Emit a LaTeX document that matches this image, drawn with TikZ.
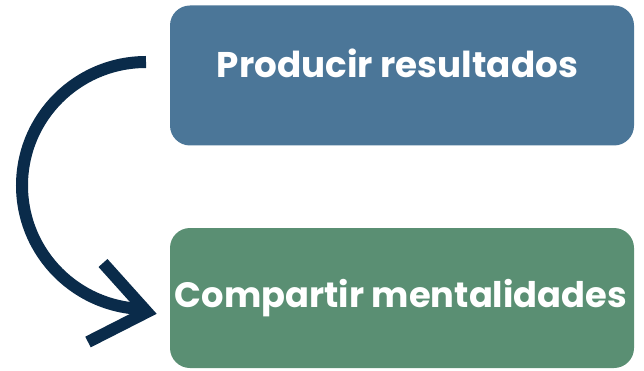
\documentclass[tikz,border=0pt]{standalone}
\usepackage{fontspec}
\setmainfont{Poppins}
\definecolor{topblue}{HTML}{4B7698}
\definecolor{botgreen}{HTML}{5A8F73}
\definecolor{navy}{HTML}{0A2B4A}
\tikzset{
  box/.style={rounded corners=20pt, minimum width=464pt, minimum height=140pt, inner sep=0pt, draw=none},
  lbl/.style={text=white, inner sep=0pt, anchor=base, font=\bfseries},
  arr/.style={draw=navy, line width=12pt}
}
\begin{document}
\begin{tikzpicture}[x=1pt,y=-1pt]
\useasboundingbox (0,0) rectangle (644,371);
\node[box, fill=topblue] (top) at (402,75.5) {};
\node[box, fill=botgreen] (bot) at (402,298) {};
\node[lbl] (toptxt) at (397.5,78) {\resizebox{361pt}{!}{Producir resultados}};
\node[lbl] (bottxt) at (401,307) {\resizebox{452pt}{!}{Compartir mentalidades}};
\coordinate (s) at (146,62);
\coordinate (t) at (146,309);
\draw[arr] (s) arc[start angle=90, end angle=270, x radius=124, y radius=-123.5];
\coordinate (tip) at (147,312);
\coordinate (a1) at (103,263);
\coordinate (a2) at (88,342);
\draw[arr, line join=miter] (a1) -- (tip) -- (a2);
\end{tikzpicture}
\end{document}
